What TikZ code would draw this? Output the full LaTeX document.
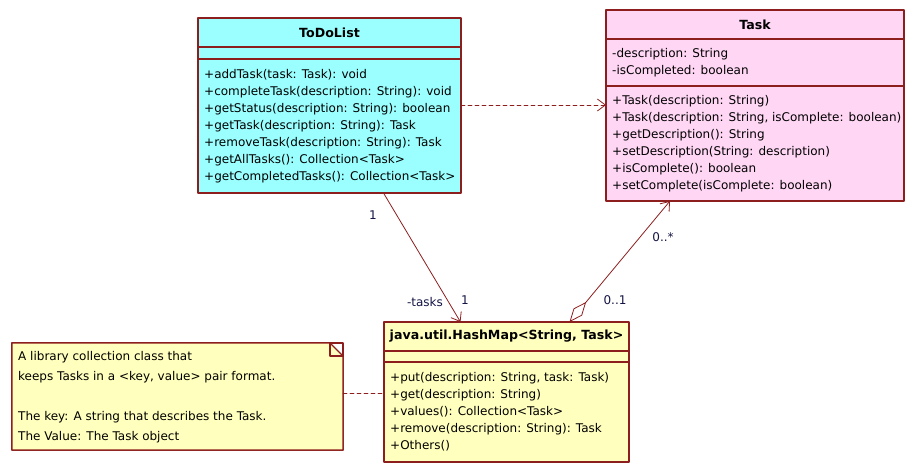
\documentclass[tikz,border=0pt]{standalone}
\usepackage{fontspec}
\setmainfont{DejaVu Sans}
\usepackage{tikz}
\usetikzlibrary{arrows.meta}

\definecolor{umlred}{RGB}{140,30,30}
\definecolor{todocyan}{RGB}{155,255,255}
\definecolor{taskpink}{RGB}{255,215,245}
\definecolor{mapyellow}{RGB}{255,255,190}
\definecolor{multblue}{RGB}{20,20,70}
\newcommand{\umlfont}{\fontsize{12}{17}\selectfont}
\newcommand{\notefont}{\fontsize{12}{20}\selectfont}

\begin{document}
\begin{tikzpicture}[x=1pt,y=-1pt,line cap=round,line join=round,
  part/.style={draw=umlred,line width=1.2pt,anchor=north west,inner sep=0pt,outer sep=0pt},
  headtext/.style={font=\fontsize{12.6}{17}\selectfont\bfseries},
  members/.style={anchor=west,align=left,inner sep=0pt,font=\umlfont},
  mult/.style={inner sep=0pt,font=\umlfont,text=multblue},
  depend/.style={draw=umlred,line width=0.8pt,dash pattern=on 4pt off 3pt,-{Straight Barb[length=8pt,width=12pt]}},
  assoc/.style={draw=umlred,line width=0.8pt,-{Straight Barb[length=8pt,width=12pt]}},
  aggr/.style={draw=umlred,line width=0.8pt,{Diamond[open,length=26pt,width=11pt]}-{Straight Barb[length=8pt,width=12pt]}}]
\useasboundingbox (0,0) rectangle (915,470);

% ToDoList
\node[part,fill=todocyan,minimum width=263,minimum height=29,headtext] (todohead) at (198,18) {ToDoList};
\node[part,fill=todocyan,minimum width=263,minimum height=12] (todoattr) at (todohead.south west) {};
\node[part,fill=todocyan,minimum width=263,minimum height=134] (todoops) at (todoattr.south west) {};
\node[members] (todoopstext) at ([xshift=6pt]todoops.west) {+addTask(task: Task): void\\
+completeTask(description: String): void\\
+getStatus(description: String): boolean\\
+getTask(description: String): Task\\
+removeTask(description: String): Task\\
+getAllTasks(): Collection<Task>\\
+getCompletedTasks(): Collection<Task>};

% Task
\node[part,fill=taskpink,minimum width=298,minimum height=29,headtext] (taskhead) at (606,10) {Task};
\node[part,fill=taskpink,minimum width=298,minimum height=47] (taskattr) at (taskhead.south west) {};
\node[members] (taskattrtext) at ([xshift=6pt]taskattr.west) {-description: String\\
-isCompleted: boolean};
\node[part,fill=taskpink,minimum width=298,minimum height=115] (taskops) at (taskattr.south west) {};
\node[members] (taskopstext) at ([xshift=6pt]taskops.west) {+Task(description: String)\\
+Task(description: String, isComplete: boolean)\\
+getDescription(): String\\
+setDescription(String: description)\\
+isComplete(): boolean\\
+setComplete(isComplete: boolean)};

% HashMap
\node[part,fill=mapyellow,minimum width=245,minimum height=29,headtext] (maphead) at (384,322) {java.util.HashMap<String, Task>};
\node[part,fill=mapyellow,minimum width=245,minimum height=11] (mapattr) at (maphead.south west) {};
\node[part,fill=mapyellow,minimum width=245,minimum height=100] (mapops) at (mapattr.south west) {};
\node[members] (mapopstext) at ([xshift=6pt]mapops.west) {+put(description: String, task: Task)\\
+get(description: String)\\
+values(): Collection<Task>\\
+remove(description: String): Task\\
+Others()};

% note
\node[part,minimum width=331,minimum height=107] (note) at (12,343) {};
\draw[draw=umlred,line width=1.2pt,fill=mapyellow] (note.north west) -- ([xshift=-13pt]note.north east)
  -- ([yshift=-13pt]note.north east) -- (note.south east) -- (note.south west) -- cycle;
\draw[draw=umlred,line width=1.2pt] ([xshift=-13pt]note.north east) |- ([yshift=-13pt]note.north east);
\node[anchor=north west,align=left,inner sep=0pt,font=\notefont] (notetext) at (18,351) {A library collection class that\\
keeps Tasks in a <key, value> pair format.\\[20pt]
The key: A string that describes the Task.\\
The Value: The Task object};

% connectors
\coordinate (depstart) at ([yshift=21pt]todoops.east);
\draw[depend] (depstart) -- (depstart -| taskops.west);
\draw[assoc] ([xshift=54pt]todoops.south) -- ([xshift=-46pt]maphead.north);
\draw[aggr] ([xshift=63pt]maphead.north) -- ([xshift=-85pt]taskops.south);
\coordinate (notelinkstart) at ([yshift=3pt]note.east);
\draw[draw=umlred,line width=0.8pt,dash pattern=on 4pt off 3pt] (notelinkstart) -- (notelinkstart -| mapops.west);

\node[mult] (todoone) at (373,215) {1};
\node[mult] (tasksrole) at (425,302) {-tasks};
\node[mult] (mapone) at (465,300) {1};
\node[mult] (taskmany) at (663,237) {0..*};
\node[mult] (mapzeroone) at (615,300) {0..1};
\end{tikzpicture}
\end{document}
